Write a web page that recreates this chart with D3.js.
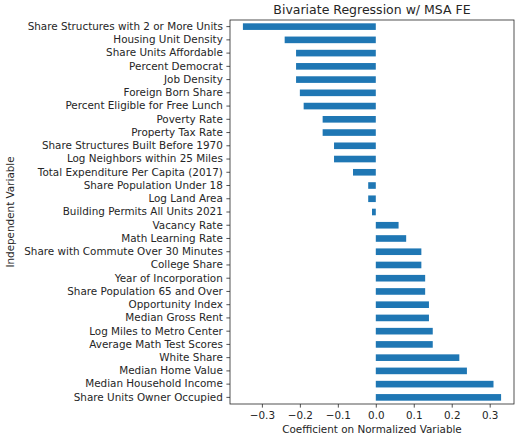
<!DOCTYPE html>
<html>
<head>
<meta charset="utf-8">
<script src="https://cdn.jsdelivr.net/npm/d3@7"></script>
<style>
  body { margin: 0; background: #fff; }
  text { font-family: "DejaVu Sans", sans-serif; fill: #262626; }
</style>
</head>
<body>
<svg id="chart" width="516" height="438"></svg>
<script>
// variables, top to bottom as drawn
var categories = [
  "Share Structures with 2 or More Units", "Housing Unit Density", "Share Units Affordable",
  "Percent Democrat", "Job Density", "Foreign Born Share", "Percent Eligible for Free Lunch",
  "Poverty Rate", "Property Tax Rate", "Share Structures Built Before 1970",
  "Log Neighbors within 25 Miles", "Total Expenditure Per Capita (2017)",
  "Share Population Under 18", "Log Land Area", "Building Permits All Units 2021",
  "Vacancy Rate", "Math Learning Rate", "Share with Commute Over 30 Minutes",
  "College Share", "Year of Incorporation", "Share Population 65 and Over",
  "Opportunity Index", "Median Gross Rent", "Log Miles to Metro Center",
  "Average Math Test Scores", "White Share", "Median Home Value",
  "Median Household Income", "Share Units Owner Occupied"
];
var coefficients = [
  -0.35, -0.24, -0.21, -0.21, -0.21, -0.20, -0.19, -0.14, -0.14, -0.11,
  -0.11, -0.06, -0.02, -0.02, -0.01, 0.06, 0.08, 0.12, 0.12, 0.13,
  0.13, 0.14, 0.14, 0.15, 0.15, 0.22, 0.24, 0.31, 0.33
];
var xTicks = [-0.3, -0.2, -0.1, 0.0, 0.1, 0.2, 0.3];

var margin = {top: 20, right: 2, bottom: 34, left: 230},
    width = 516 - margin.left - margin.right,
    height = 438 - margin.top - margin.bottom;

var svg = d3.select("#chart"),
    g = svg.append("g").attr("transform", "translate(" + margin.left + "," + margin.top + ")");

// matplotlib-like 5% padding
var lo = d3.min(coefficients), hi = d3.max(coefficients), pad = (hi - lo) * 0.05;
var x = d3.scaleLinear().domain([lo - pad, hi + pad]).range([0, width]);
var y = d3.scaleBand().domain(categories).range([0, height]).paddingInner(0.5).paddingOuter(0.25);

g.selectAll("rect.bar")
  .data(coefficients)
  .enter().append("rect")
  .attr("class", "bar")
  .attr("x", function (d) { return x(Math.min(0, d)); })
  .attr("y", function (d, i) { return y(categories[i]); })
  .attr("width", function (d) { return Math.abs(x(d) - x(0)); })
  .attr("height", y.bandwidth())
  .attr("fill", "#1f77b4");

var fmt = function (d) { return d3.format(".1f")(d).replace("-", "\u2212"); };

var xAxis = g.append("g")
  .attr("transform", "translate(0," + height + ")")
  .call(d3.axisBottom(x).tickValues(xTicks).tickFormat(fmt).tickSize(3.6).tickPadding(3.6));

var yAxis = g.append("g")
  .call(d3.axisLeft(y).tickSize(3.6).tickPadding(3.6));

[xAxis, yAxis].forEach(function (a) {
  a.select(".domain").remove();
  a.selectAll(".tick line").attr("stroke", "#262626").attr("stroke-width", 0.8);
  a.selectAll(".tick text").style("font-size", "10.4px").attr("fill", "#262626");
});

// frame
g.append("rect")
  .attr("x", 0).attr("y", 0)
  .attr("width", width).attr("height", height)
  .attr("fill", "none").attr("stroke", "#262626").attr("stroke-width", 0.8);

svg.append("text")
  .attr("x", margin.left + width / 2).attr("y", 14)
  .attr("text-anchor", "middle")
  .style("font-size", "12.5px")
  .text("Bivariate Regression w/ MSA FE");

svg.append("text")
  .attr("x", margin.left + width / 2).attr("y", 433)
  .attr("text-anchor", "middle")
  .style("font-size", "10.4px")
  .text("Coefficient on Normalized Variable");

svg.append("text")
  .attr("transform", "translate(14," + (margin.top + height / 2) + ") rotate(-90)")
  .attr("text-anchor", "middle")
  .style("font-size", "10.4px")
  .text("Independent Variable");
</script>
</body>
</html>
